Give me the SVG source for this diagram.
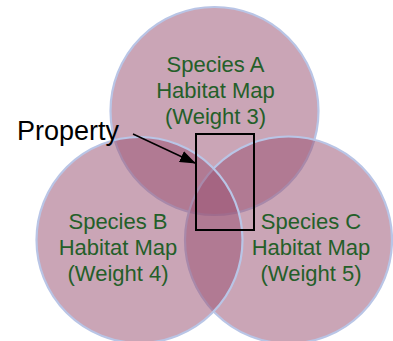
<svg xmlns="http://www.w3.org/2000/svg" width="393" height="341" viewBox="0 0 393 341">
  <defs>
    <style>
      .set { fill: #9a5273; fill-opacity: 0.52; stroke: #b9c5e6; stroke-width: 2.2; }
      .lbl { font-family: "Liberation Sans", Arial, sans-serif; font-size: 22px; fill: #245f29; text-anchor: middle; }
      .prop { font-family: "Liberation Sans", Arial, sans-serif; font-size: 27px; fill: #000; }
    </style>
    <marker id="arr" markerWidth="16" markerHeight="12" refX="15" refY="6" orient="auto" markerUnits="userSpaceOnUse">
      <path d="M0,0 L16,6 L0,12 Z" fill="#000"/>
    </marker>
  </defs>
  <rect width="393" height="341" fill="#fff"/>
  <g id="speciesA">
    <circle class="set" cx="214.5" cy="111" r="104"/>
  </g>
  <g id="speciesC">
    <circle class="set" cx="288.5" cy="240" r="103.5"/>
  </g>
  <g id="speciesB">
    <circle class="set" cx="139.5" cy="240" r="103"/>
  </g>
  <g id="labelA">
    <text class="lbl" x="215.5" y="72">Species A</text>
    <text class="lbl" x="215.5" y="98">Habitat Map</text>
    <text class="lbl" x="215.5" y="124">(Weight 3)</text>
  </g>
  <g id="labelB">
    <text class="lbl" x="118" y="229">Species B</text>
    <text class="lbl" x="118" y="255">Habitat Map</text>
    <text class="lbl" x="118" y="281">(Weight 4)</text>
  </g>
  <g id="labelC">
    <text class="lbl" x="311" y="229">Species C</text>
    <text class="lbl" x="311" y="255">Habitat Map</text>
    <text class="lbl" x="311" y="281">(Weight 5)</text>
  </g>
  <g id="property">
    <rect x="196" y="134" width="58" height="96" fill="none" stroke="#000" stroke-width="2"/>
    <text class="prop" x="17" y="140">Property</text>
  </g>
  <g id="connectors">
    <line x1="133" y1="134" x2="195" y2="163" stroke="#000" stroke-width="1.5" marker-end="url(#arr)"/>
  </g>
</svg>
